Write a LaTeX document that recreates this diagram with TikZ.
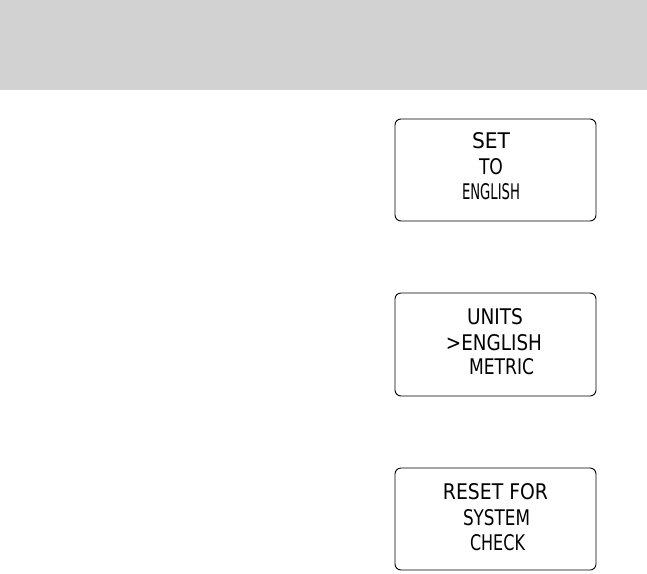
\documentclass[tikz,border=0pt]{standalone}
\usepackage{fontspec}
\usepackage{graphicx}
\newfontfamily\lcdfont{DejaVu Sans}[FakeStretch=0.6]
\newcommand{\lcd}[2]{\resizebox{#1pt}{16pt}{\lcdfont #2}}
\begin{document}
\begin{tikzpicture}[x=1pt,y=-1pt,
  screen/.style={draw=black,line width=0.9pt,rounded corners=6pt},
  txt/.style={inner sep=0pt,anchor=center}]
\useasboundingbox (0,0) rectangle (647,573);
\fill[fill={rgb,255:red,210;green,210;blue,210}] (0,0) rectangle (647,90);
% box 1
\draw[screen] (395,119) rectangle (596,221);
\node[txt] (s1a) at (491,141) {\lcd{38}{SET}};
\node[txt] (s1b) at (491,167) {\lcd{24}{TO}};
\node[txt] (s1c) at (491,192) {\lcd{58}{ENGLISH}};
% box 2
\draw[screen] (395,293) rectangle (596,396);
\node[txt] (s2a) at (495,317) {\lcd{56}{UNITS}};
\node[txt] (s2b) at (494,343) {\lcd{96}{>ENGLISH}};
\node[txt] (s2c) at (501.5,367) {\lcd{65}{METRIC}};
% box 3
\draw[screen] (395,468) rectangle (596,570);
\node[txt] (s3a) at (495.5,492) {\lcd{105}{RESET FOR}};
\node[txt] (s3b) at (496.5,518) {\lcd{67}{SYSTEM}};
\node[txt] (s3c) at (497.5,543) {\lcd{55}{CHECK}};
\end{tikzpicture}
\end{document}
